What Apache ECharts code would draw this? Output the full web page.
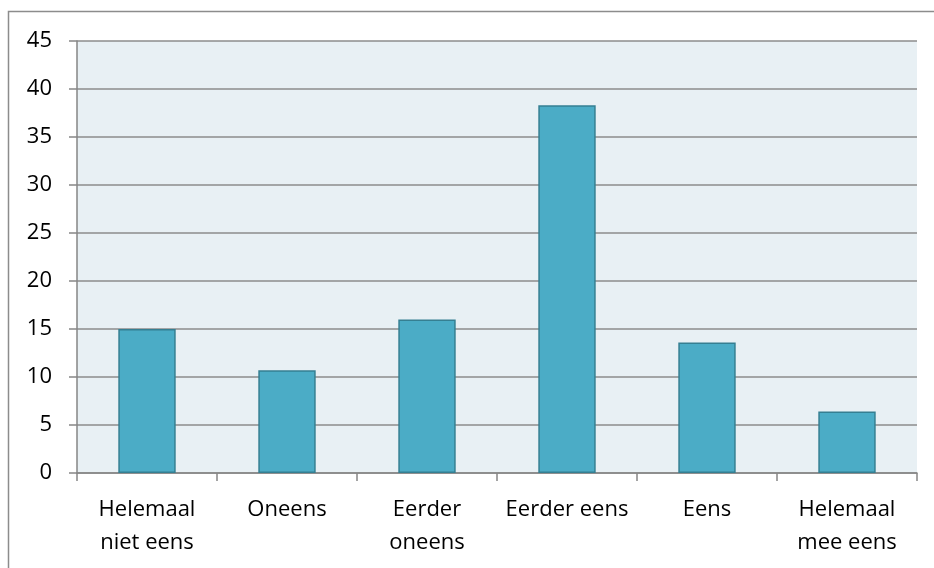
<!DOCTYPE html>
<html>
<head>
<meta charset="utf-8">
<script src="https://cdn.jsdelivr.net/npm/echarts@6/dist/echarts.min.js"></script>
<style>
  html, body { margin: 0; padding: 0; background: #ffffff; }
  #chart { width: 934px; height: 568px; }
</style>
</head>
<body>
<div id="chart"></div>
<script>
// Answer categories along the x axis
const categories = ['Helemaal\nniet eens', 'Oneens', 'Eerder\noneens', 'Eerder eens', 'Eens', 'Helemaal\nmee eens'];
// Percentage per answer
const values = [15.0, 10.7, 16.0, 38.3, 13.6, 6.4];
// Value axis range
const yMin = 0;
const yMax = 45;
const yStep = 5;

const chart = echarts.init(document.getElementById('chart'), null, { renderer: 'canvas' });
const font = "'Open Sans', 'Liberation Sans', sans-serif";
const axisGray = '#868686';

chart.setOption({
  animation: false,
  backgroundColor: '#ffffff',
  graphic: [{
    type: 'rect',
    shape: { x: 8.5, y: 11.5, width: 940, height: 600 },
    style: { fill: 'none', stroke: '#8c8c8c', lineWidth: 1.5 },
    silent: true
  }],
  grid: {
    left: 77, right: 17, top: 41, bottom: 95,
    show: true,
    backgroundColor: '#e8f0f4',
    borderWidth: 0
  },
  xAxis: {
    type: 'category',
    data: categories,
    boundaryGap: true,
    axisLine: { show: true, lineStyle: { color: axisGray, width: 1.5 } },
    axisTick: { show: true, length: 8, alignWithLabel: false, lineStyle: { color: axisGray, width: 1.5 } },
    axisLabel: {
      color: '#000000', fontFamily: font, fontSize: 22, margin: 20,
      lineHeight: 33, interval: 0
    },
    splitLine: { show: false }
  },
  yAxis: {
    type: 'value',
    min: yMin, max: yMax, interval: yStep,
    axisLine: { show: true, lineStyle: { color: axisGray, width: 1.5 } },
    axisTick: { show: true, length: 8, lineStyle: { color: axisGray, width: 1.5 } },
    axisLabel: { color: '#000000', fontFamily: font, fontSize: 22, margin: 25 },
    splitLine: { show: true, lineStyle: { color: '#8c8c8c', width: 1.5 } }
  },
  series: [{
    type: 'bar',
    data: values,
    barWidth: '41%',
    itemStyle: { color: '#4bacc6', borderColor: '#357f92', borderWidth: 1.5 }
  }]
});
</script>
</body>
</html>
